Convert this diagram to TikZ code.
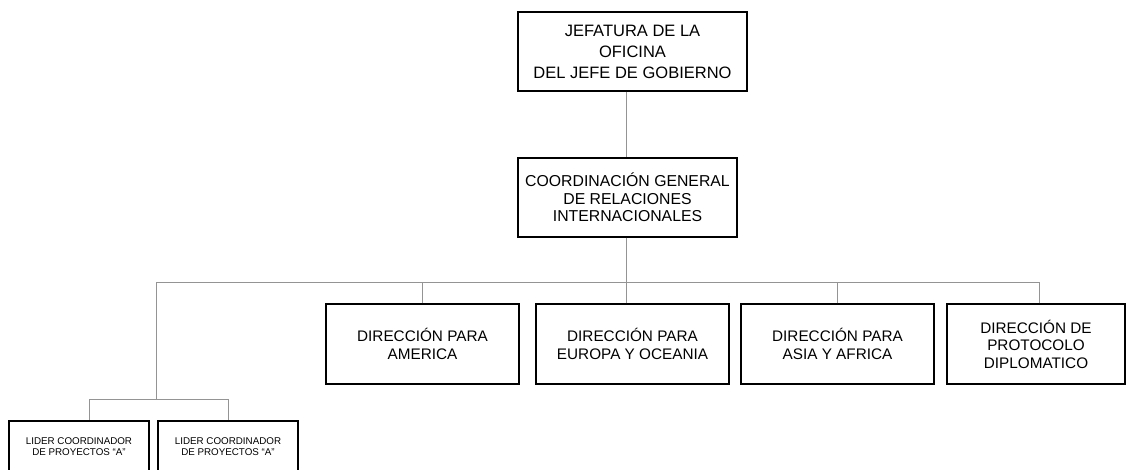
\documentclass[tikz,border=0pt]{standalone}
\usepackage{fontspec}
\setmainfont{Liberation Sans}
\begin{document}
\begin{tikzpicture}[x=1pt,y=-1pt,
  box/.style={draw=black,line width=1.1pt,rectangle,inner sep=0pt,align=center,
    font=\fontsize{15.3}{17.5}\selectfont},
  smallbox/.style={box,font=\fontsize{9.8}{11}\selectfont},
  conn/.style={draw=black!42,line width=1pt}]
\clip (0,0) rectangle (1129,470);
\node[box,minimum width=229pt,minimum height=79pt,font=\fontsize{16.5}{21}\selectfont] (jef) at (632.5,51.5)
  {JEFATURA DE LA\\OFICINA\\DEL JEFE DE GOBIERNO};
\node[box,minimum width=219pt,minimum height=79pt,font=\fontsize{15.8}{17.5}\selectfont] (coord) at (627.5,197.5)
  {COORDINACIÓN GENERAL\\DE RELACIONES\\INTERNACIONALES};
\node[box,minimum width=193pt,minimum height=80pt] (america) at (422.5,344)
  {DIRECCIÓN PARA\\AMERICA};
\node[box,minimum width=193pt,minimum height=80pt] (europa) at (632.5,344)
  {DIRECCIÓN PARA\\EUROPA Y OCEANIA};
\node[box,minimum width=193pt,minimum height=80pt] (asia) at (837.5,344)
  {DIRECCIÓN PARA\\ASIA Y AFRICA};
\node[box,minimum width=178pt,minimum height=80pt] (proto) at (1036,344)
  {DIRECCIÓN DE\\PROTOCOLO\\DIPLOMATICO};
\node[smallbox,minimum width=140pt,minimum height=52pt] (lider1) at (79,447)
  {LIDER COORDINADOR\\DE PROYECTOS “A”};
\node[smallbox,minimum width=140pt,minimum height=52pt] (lider2) at (228,447)
  {LIDER COORDINADOR\\DE PROYECTOS “A”};
\coordinate (trunk) at (626,282);
\coordinate (busL) at (156,282);
\coordinate (busR) at (1039,282);
\coordinate (subL) at (89,399);
\coordinate (subR) at (228,399);
\draw[conn] (jef.south -| trunk) -- (coord.north -| trunk);
\draw[conn] (coord.south -| trunk) -- (trunk);
\draw[conn] (busL) -- (busR);
\draw[conn] (america.north) -- (america.north |- busL);
\draw[conn] (europa.north -| trunk) -- (trunk);
\draw[conn] (asia.north) -- (asia.north |- busL);
\draw[conn] (proto.north -| busR) -- (busR);
\draw[conn] (busL) -- (busL |- subL);
\draw[conn] (subL) -- (subR);
\draw[conn] (subL) -- (lider1.north -| subL);
\draw[conn] (subR) -- (lider2.north);
\end{tikzpicture}
\end{document}
